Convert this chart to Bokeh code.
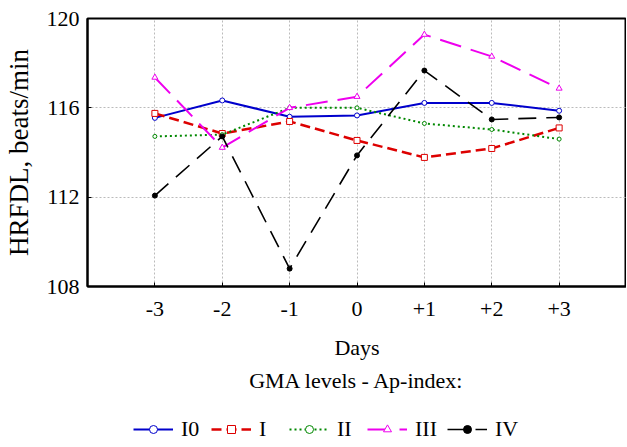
from bokeh.plotting import figure
from bokeh.models import FixedTicker, Legend, LegendItem, Range1d
from bokeh.layouts import column
from bokeh.embed import file_html
from bokeh.resources import INLINE

# ---- data ----
days = [-3, -2, -1, 0, 1, 2, 3]
day_labels = ["-3", "-2", "-1", "0", "+1", "+2", "+3"]
y_ticks = [108, 112, 116, 120]

series_names = ["I0", "I", "II", "III", "IV"]
s_I0 = [115.55, 116.33, 115.6, 115.66, 116.22, 116.22, 115.87]
s_I = [115.75, 114.85, 115.39, 114.54, 113.78, 114.18, 115.1]
s_II = [114.72, 114.8, 116.0, 116.0, 115.3, 115.03, 114.6]
s_III = [117.36, 114.22, 116.0, 116.5, 119.28, 118.3, 116.87]
s_IV = [112.07, 114.72, 108.8, 113.87, 117.67, 115.48, 115.57]

FONT = "Liberation Serif"

p = figure(frame_width=539, frame_height=268, x_range=Range1d(-4, 4), y_range=Range1d(108, 120),
           output_backend="svg", toolbar_location=None,
           min_border_top=18, min_border_right=0, min_border_left=0, min_border_bottom=0)
p.background_fill_color = "white"
p.border_fill_color = "white"
p.outline_line_color = "black"
p.outline_line_width = 2

# axes
p.xaxis.ticker = FixedTicker(ticks=days)
p.xaxis.major_label_overrides = {d: l for d, l in zip(days, day_labels)}
p.xaxis.axis_label = "Days\nGMA levels - Ap-index:"
p.yaxis.ticker = FixedTicker(ticks=y_ticks)
p.yaxis.axis_label = "HRFDL, beats/min"
for ax in (p.xaxis, p.yaxis):
    ax.axis_line_color = "black"
    ax.axis_line_width = 2
    ax.major_tick_in = 4
    ax.major_tick_out = 0
    ax.minor_tick_line_color = None
    ax.major_label_text_font = FONT
    ax.major_label_text_font_size = "22px"
    ax.major_label_text_color = "black"
    ax.axis_label_text_font = FONT
    ax.axis_label_text_font_style = "normal"
    ax.axis_label_text_color = "black"
p.xaxis.axis_label_text_font_size = "22px"
p.xaxis.axis_label_text_line_height = 1.35
p.yaxis.axis_label_text_font_size = "27px"
p.xaxis.major_label_standoff = 15
p.xaxis.axis_label_standoff = 16
p.yaxis.major_label_standoff = 8
p.yaxis.axis_label_standoff = 10

p.grid.grid_line_color = "#bbbbbb"
p.grid.grid_line_dash = "2 2"
p.grid.grid_line_width = 1

styles = [
    dict(color="#0000cc", dash="solid", width=2, marker="circle", size=5, fill="white"),
    dict(color="#dd0000", dash="10 5", width=2.5, marker="square", size=6, fill="white"),
    dict(color="#008800", dash="2 3", width=2, marker="circle", size=4, fill="white"),
    dict(color="#ee00ee", dash="22 10", width=2, marker="triangle", size=6, fill="white"),
    dict(color="black", dash="18 10", width=1.6, marker="circle", size=5, fill="black"),
]
all_series = [s_I0, s_I, s_II, s_III, s_IV]

# legend strip: a second figure whose view shows none of the data, only the legend
p2 = figure(width=626, height=50, x_range=Range1d(100, 101), y_range=Range1d(100, 101),
            output_backend="svg", toolbar_location=None, x_axis_type=None, y_axis_type=None,
            min_border=0, min_border_left=0, min_border_right=0, min_border_top=0,
            min_border_bottom=0)
p2.outline_line_color = None
p2.grid.visible = False
p2.background_fill_color = "white"
p2.border_fill_color = "white"

items = []
for name, vals, st in zip(series_names, all_series, styles):
    p.line(days, vals, line_color=st["color"], line_width=st["width"], line_dash=st["dash"])
    p.scatter(days, vals, marker=st["marker"], size=st["size"], line_color=st["color"],
              fill_color=st["fill"], line_width=1)
    rl = p2.line(days, vals, line_color=st["color"], line_width=st["width"], line_dash=st["dash"])
    rm = p2.scatter(days, vals, marker=st["marker"], size=st["size"], line_color=st["color"],
                    fill_color=st["fill"], line_width=1)
    items.append(LegendItem(label=name, renderers=[rl, rm]))

leg = Legend(items=items, orientation="horizontal", location=(46, 4),
             label_text_font=FONT, label_text_font_size="22px", label_text_color="black",
             glyph_width=40, label_standoff=8, spacing=10, border_line_color=None,
             background_fill_alpha=0, padding=4, margin=0)
p2.add_layout(leg, "center")

layout = column(p, p2, spacing=0)
open("out.html", "w").write(file_html(layout, INLINE))
